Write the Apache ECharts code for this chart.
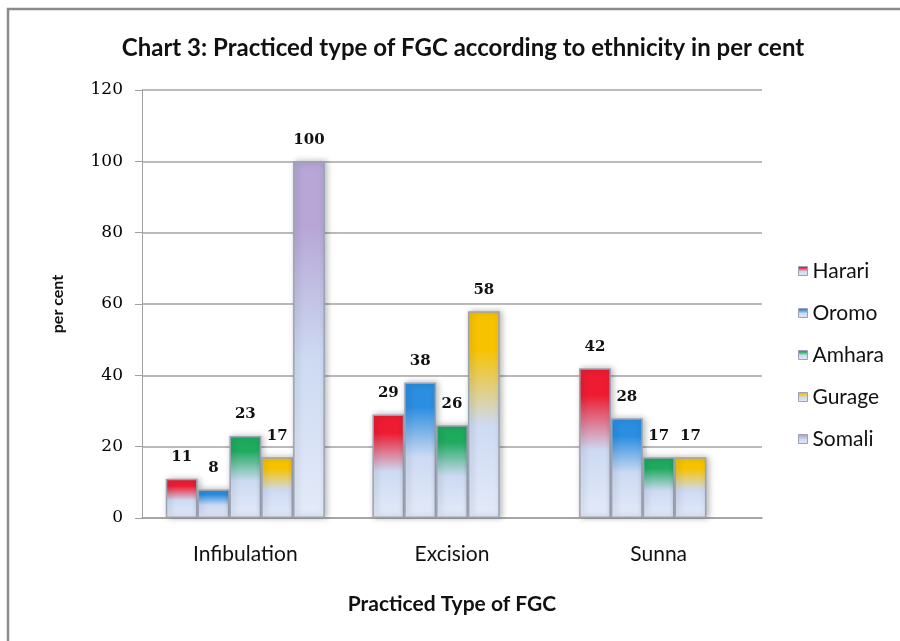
<!DOCTYPE html>
<html>
<head>
<meta charset="utf-8">
<script src="https://cdn.jsdelivr.net/npm/echarts@6/dist/echarts.min.js"></script>
<style>
  html, body { margin: 0; padding: 0; background: #fff; }
  #chart { width: 900px; height: 641px; }
</style>
</head>
<body>
<div id="chart"></div>
<script>
// FGC type by ethnicity (per cent)
const categories = ['Infibulation', 'Excision', 'Sunna'];
const groups = ['Harari', 'Oromo', 'Amhara', 'Gurage', 'Somali'];
const harari = [11, 29, 42];
const oromo = [8, 38, 28];
const amhara = [23, 26, 17];
const gurage = [17, 58, 17];
const somali = [100, null, null];
const yTicks = [0, 20, 40, 60, 80, 100, 120];

const seriesValues = [harari, oromo, amhara, gurage, somali];
const topColors = ['#ee1c32', '#2b8ee0', '#1faa5e', '#f7c300', '#b7a6d6'];

const FONT = 'Lato, "Open Sans", sans-serif';
const NUM_FONT = '"DejaVu Serif", serif';

function barFill(top) {
  return new echarts.graphic.LinearGradient(0, 0, 0, 1, [
    { offset: 0, color: top },
    { offset: 0.18, color: top },
    { offset: 0.55, color: '#cddaf2' },
    { offset: 1, color: '#e4ebf9' }
  ]);
}

const chart = echarts.init(document.getElementById('chart'), null, { renderer: 'canvas' });

chart.setOption({
  backgroundColor: '#ffffff',
  animation: false,
  title: {
    text: 'Chart 3: Practiced type of FGC according to ethnicity in per cent',
    left: 458,
    textAlign: 'center',
    top: 31,
    textStyle: { fontFamily: FONT, fontSize: 24, fontWeight: 'bold', color: '#111' }
  },
  legend: {
    orient: 'vertical',
    left: 793,
    top: 254,
    itemWidth: 9,
    itemHeight: 9,
    itemGap: 18,
    data: groups.map((g, i) => ({ name: g, itemStyle: { color: barFill(topColors[i]), borderColor: '#9aa3b3', borderWidth: 1 } })),
    icon: 'rect',
    textStyle: { fontFamily: FONT, fontSize: 21, color: '#111', lineHeight: 24, padding: [0, 0, 0, 0] }
  },
  grid: { left: 142, right: 138, top: 90, bottom: 123, containLabel: false },
  xAxis: {
    type: 'category',
    data: categories,
    name: 'Practiced Type of FGC',
    nameLocation: 'middle',
    nameGap: 76,
    nameTextStyle: { fontFamily: FONT, fontSize: 21, fontWeight: 'bold', color: '#111' },
    axisLine: { lineStyle: { color: '#a0a0a0', width: 1.5 } },
    axisTick: { show: false },
    axisLabel: { fontFamily: FONT, fontSize: 21, color: '#111', margin: 26 }
  },
  yAxis: {
    type: 'value',
    min: yTicks[0],
    max: yTicks[yTicks.length - 1],
    interval: yTicks[1] - yTicks[0],
    name: 'per cent',
    nameLocation: 'middle',
    nameGap: 76,
    nameRotate: 90,
    nameTextStyle: { fontFamily: FONT, fontSize: 16, fontWeight: 'bold', color: '#111' },
    axisLine: { show: true, lineStyle: { color: '#a0a0a0', width: 1 } },
    axisTick: { show: true, length: 7, lineStyle: { color: '#a0a0a0' } },
    axisLabel: { fontFamily: NUM_FONT, fontSize: 17, color: '#000', margin: 19 },
    splitLine: { lineStyle: { color: '#a3a3a3', width: 1.5 } }
  },
  series: groups.map((g, i) => ({
    name: g,
    type: 'bar',
    data: seriesValues[i],
    barGap: '0%',
    barCategoryGap: '23%',
    itemStyle: {
      color: barFill(topColors[i]),
      borderColor: '#9aa3b3',
      borderWidth: 1.5,
      shadowBlur: 6,
      shadowColor: 'rgba(0,0,0,0.28)',
      shadowOffsetX: 2
    },
    label: {
      show: true,
      position: 'top',
      distance: 14,
      fontFamily: NUM_FONT,
      fontSize: 15,
      fontWeight: 'bold',
      color: '#111'
    }
  })),
  graphic: [{
    type: 'rect',
    shape: { x: 8, y: 9, width: 920, height: 660 },
    style: { fill: 'none', stroke: '#8a8a8a', lineWidth: 2.5 },
    silent: true,
    z: 100
  }]
});
</script>
</body>
</html>
